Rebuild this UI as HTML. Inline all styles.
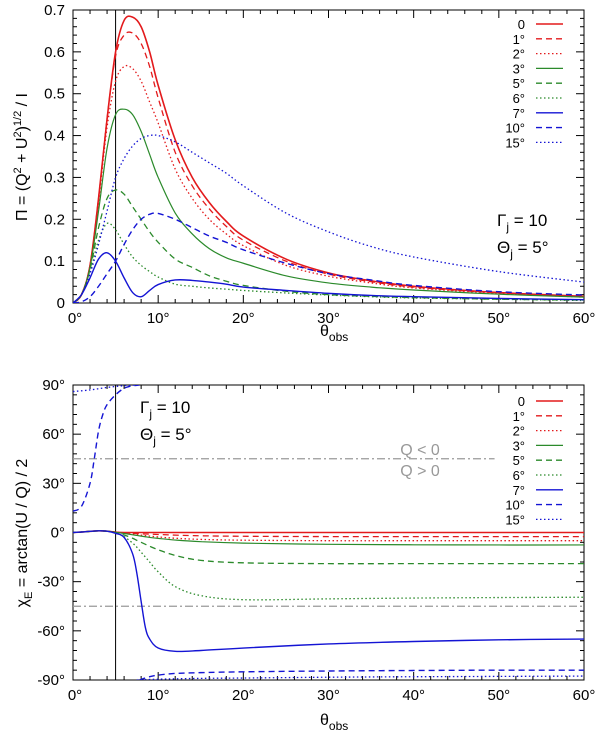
<!DOCTYPE html>
<html><head><meta charset="utf-8"><style>
body{margin:0;background:#fff}
svg text{font-family:"Liberation Sans",sans-serif;fill:#000}
</style></head><body>
<svg id="chart" width="600" height="735" viewBox="0 0 600 735" xmlns="http://www.w3.org/2000/svg">
<defs>
<clipPath id="clipTop"><rect x="73" y="10" width="511" height="293"/></clipPath>
<clipPath id="clipBot"><rect x="73" y="385" width="511" height="295"/></clipPath>
</defs>
<g id="top"></g>
<g id="bot"></g>
</svg>
<script>
// ---- data ----
const legendLabels = ["0","1°","2°","3°","5°","6°","7°","10°","15°"];
const thetaTop = [0,1,2,3,4,5,6,7,8,9,10,12,14,16,18,20,25,30,35,40,50,60];
const piS0  = [0,0.02,0.09,0.25,0.44,0.60,0.675,0.683,0.66,0.6,0.52,0.39,0.3,0.24,0.195,0.16,0.105,0.072,0.053,0.04,0.025,0.016];
const piS1  = [0,0.02,0.09,0.25,0.44,0.59,0.64,0.645,0.62,0.565,0.49,0.36,0.28,0.225,0.183,0.15,0.1,0.069,0.051,0.038,0.024,0.015];
const piS2  = [0,0.02,0.09,0.24,0.42,0.53,0.565,0.56,0.53,0.48,0.43,0.32,0.25,0.2,0.165,0.137,0.09,0.064,0.048,0.036,0.023,0.014];
const piS3  = [0,0.02,0.085,0.22,0.37,0.45,0.463,0.45,0.41,0.355,0.3,0.215,0.165,0.13,0.108,0.095,0.065,0.048,0.038,0.031,0.021,0.014];
const piS5  = [0,0.02,0.08,0.18,0.25,0.27,0.26,0.23,0.2,0.17,0.145,0.105,0.085,0.065,0.052,0.042,0.028,0.02,0.016,0.013,0.009,0.007];
const piS6  = [0,0.02,0.075,0.15,0.19,0.175,0.14,0.11,0.09,0.075,0.062,0.045,0.04,0.036,0.033,0.03,0.024,0.019,0.015,0.012,0.009,0.006];
const piS7  = [0,0.02,0.06,0.105,0.12,0.1,0.06,0.025,0.015,0.03,0.044,0.055,0.054,0.05,0.045,0.038,0.03,0.023,0.018,0.015,0.011,0.008];
const piS10 = [0,0.003,0.015,0.04,0.07,0.1,0.14,0.175,0.2,0.212,0.214,0.2,0.18,0.16,0.145,0.127,0.095,0.07,0.055,0.042,0.027,0.019];
const piS15 = [0,0.02,0.07,0.14,0.22,0.3,0.345,0.375,0.393,0.4,0.4,0.385,0.36,0.335,0.31,0.28,0.215,0.17,0.135,0.11,0.075,0.05];

const thetaBot = [0,1,2,3,4,5,6,7,7.5,8,8.5,9,10,12,15,20,30,40,50,60];
const chiS0 = [0,0.3,0.7,1,0.8,0.2,0,0,0,0,0,0,0,0,0,0,0,0,0,0];
const chiS1 = [0,0.3,0.7,1,0.8,0.2,-0.2,-0.5,-0.6,-0.8,-0.9,-1,-1.2,-1.6,-2,-2.3,-2.5,-2.5,-2.5,-2.5];
const chiS2 = [0,0.3,0.7,1,0.8,0.2,-0.4,-1,-1.3,-1.6,-1.9,-2.2,-2.7,-3.5,-4.2,-4.7,-5,-5,-5,-5];
const chiS3 = [0,0.3,0.7,1,0.8,0.1,-0.6,-1.4,-1.8,-2.2,-2.6,-3,-3.6,-4.6,-5.6,-6.5,-7.2,-7.5,-7.6,-7.6];
const chiS5 = [0,0.3,0.7,1,0.8,0,-1.5,-3.5,-4.8,-6,-7.2,-8.4,-10.5,-14,-17,-18.5,-19,-19,-19,-19];
const chiS6 = [0,0.3,0.7,1,0.8,-0.2,-2.5,-6.5,-9,-12,-15,-18,-24,-33,-38.5,-41,-40.5,-40,-39.7,-39.5];
const chiS7 = [0,0.3,0.7,1,0.8,-0.5,-3,-13,-25,-42,-58,-65,-70.5,-72.5,-72,-70.5,-68,-66.5,-65.5,-65];
const thetaS10a = [0,1,2,2.5,3,3.5,4,5,6,7,7.8];
const chiS10a   = [13,16,30,45,62,72,78,84,88,89.5,90];
const thetaS10b = [7.8,9,10,12,15,20,30,40,50,60];
const chiS10b   = [-90,-88,-87,-86,-85.5,-85,-84.5,-84.2,-84,-84];
const thetaS15a = [0,2,4,6,7.5];
const chiS15a   = [86,87,88.5,89.6,90];
const thetaS15b = [7.5,10,15,20,30,40,50,60];
const chiS15b   = [-90,-89.5,-89,-88.8,-88.3,-88,-87.8,-87.6];

const xTicks = [0,10,20,30,40,50,60];
const yTicksTop = [0,0.1,0.2,0.3,0.4,0.5,0.6,0.7];
const yTicksBot = [90,60,30,0,-30,-60,-90];

// ---- scales ----
const X0=73, X1=584;
const xs = t => X0 + (X1-X0)*t/60;
const yTop = v => 303 - (303-10)*v/0.7;
const yBot = v => 532.5 - 147.5*v/90;

const RED="#e31a1c", GREEN="#2b8a2b", BLUE="#1414d4";
const SOLID=null, DASH="6,4", DOT="1.5,2.5";
const styles = [[RED,SOLID,1.6],[RED,DASH,1.3],[RED,DOT,1.3],[GREEN,SOLID,1.2],[GREEN,DASH,1.3],[GREEN,DOT,1.3],[BLUE,SOLID,1.4],[BLUE,DASH,1.4],[BLUE,DOT,1.3]];
const NS="http://www.w3.org/2000/svg";

function mk(tag, attrs, parent){
  const e=document.createElementNS(NS,tag);
  for(const k in attrs) e.setAttribute(k,attrs[k]);
  parent.appendChild(e); return e;
}
function smoothPath(pts){
  let d="M"+pts[0][0].toFixed(2)+","+pts[0][1].toFixed(2);
  for(let i=0;i<pts.length-1;i++){
    const p0=pts[Math.max(0,i-1)],p1=pts[i],p2=pts[i+1],p3=pts[Math.min(pts.length-1,i+2)];
    const c1x=p1[0]+(p2[0]-p0[0])/6,c1y=p1[1]+(p2[1]-p0[1])/6;
    const c2x=p2[0]-(p3[0]-p1[0])/6,c2y=p2[1]-(p3[1]-p1[1])/6;
    d+=" C"+c1x.toFixed(2)+","+c1y.toFixed(2)+" "+c2x.toFixed(2)+","+c2y.toFixed(2)+" "+p2[0].toFixed(2)+","+p2[1].toFixed(2);
  }
  return d;
}
function drawSeries(g, ts, vs, ys, st, clip, name){
  const pts=ts.map((t,i)=>[xs(t),ys(vs[i])]);
  const p=mk("path",{d:smoothPath(pts),fill:"none",stroke:st[0],"stroke-width":st[2],"clip-path":"url(#"+clip+")"},g);
  if(st[1]) p.setAttribute("stroke-dasharray",st[1]);
  
  
}
function frame(g, yT, yB, yScale, yTicks, yMinorStep, yMin, yMax, fmt){
  const r=mk("rect",{x:X0,y:yT,width:X1-X0,height:yB-yT,fill:"none",stroke:"#000","stroke-width":1},g);
  
  
  for(let t=0;t<=60;t+=2){
    const maj=t%10===0, L=maj?8:4, x=xs(t);
    mk("line",{x1:x,y1:yB,x2:x,y2:yB-L,stroke:"#000","stroke-width":1},g);
    mk("line",{x1:x,y1:yT,x2:x,y2:yT+L,stroke:"#000","stroke-width":1},g);
  }
  for(let v=yMin;v<=yMax+1e-9;v+=yMinorStep){
    const maj=yTicks.some(m=>Math.abs(m-v)<1e-6), L=maj?8:4, y=yScale(v);
    mk("line",{x1:X0,y1:y,x2:X0+L,y2:y,stroke:"#000","stroke-width":1},g);
    mk("line",{x1:X1,y1:y,x2:X1-L,y2:y,stroke:"#000","stroke-width":1},g);
  }
  xTicks.forEach(t=>{
    const tx=mk("text",{x:xs(t)+ (t===0?2:0),y:yB+20,"font-size":15,"text-anchor":"middle"},g);
    tx.textContent=t+"°";
    
    
  });
  yTicks.forEach(v=>{
    const tx=mk("text",{x:65,y:yScale(v)+5,"font-size":15,"text-anchor":"end"},g);
    tx.textContent=fmt(v);
    
    
  });
  const vl=mk("line",{x1:xs(5),y1:yT,x2:xs(5),y2:yB,stroke:"#000","stroke-width":1},g);
  
  
}
function legend(g, y0){
  legendLabels.forEach((lab,i)=>{
    const y=y0+i*14.8;
    const t=mk("text",{x:525,y:y+5,"font-size":13,"text-anchor":"end"},g);
    t.textContent=lab;
    
    
    const st=styles[i];
    const l=mk("line",{x1:536,y1:y,x2:563,y2:y,stroke:st[0],"stroke-width":st[2]},g);
    if(st[1]) l.setAttribute("stroke-dasharray",st[1]);
    
    
  });
}
function params(g,x,y){
  const t=mk("text",{x:x,y:y,"font-size":17},g);
  t.innerHTML='Γ<tspan dy="5" font-size="12">j</tspan><tspan dy="-5"> = 10</tspan>';
  
  
  const t2=mk("text",{x:x,y:y+27,"font-size":17},g);
  t2.innerHTML='Θ<tspan dy="5" font-size="12">j</tspan><tspan dy="-5"> = 5°</tspan>';
  
  
}

// ---- top panel ----
const gt=document.getElementById("top");
frame(gt,10,303,yTop,yTicksTop,0.02,0,0.7,v=>v===0?"0":v.toFixed(1));
const topSeries=[piS0,piS1,piS2,piS3,piS5,piS6,piS7,piS10,piS15];
topSeries.forEach((vs,i)=>drawSeries(gt,thetaTop,vs,yTop,styles[i],"clipTop","pi-series-"+i));
legend(gt,24);
params(gt,497,226);
let xl=mk("text",{x:320,y:336,"font-size":16},gt);
xl.innerHTML='θ<tspan dy="5" font-size="12">obs</tspan>';


let yl=mk("text",{x:0,y:0,"font-size":16,"text-anchor":"middle",transform:"translate(27,157) rotate(-90)"},gt);
yl.innerHTML='Π = (Q<tspan dy="-6" font-size="11">2</tspan><tspan dy="6"> + U</tspan><tspan dy="-6" font-size="11">2</tspan><tspan dy="6">)</tspan><tspan dy="-6" font-size="11">1/2</tspan><tspan dy="6"> / I</tspan>';



// ---- bottom panel ----
const gb=document.getElementById("bot");
frame(gb,385,680,yBot,yTicksBot,6,-90,90,v=>v+"°");
let qa=mk("line",{x1:X0,y1:yBot(45),x2:xs(49.5),y2:yBot(45),stroke:"#999","stroke-width":1.3,"stroke-dasharray":"8,3,2,3"},gb);


let qb=mk("line",{x1:X0,y1:yBot(-45),x2:X1,y2:yBot(-45),stroke:"#999","stroke-width":1.3,"stroke-dasharray":"8,3,2,3"},gb);


let q1=mk("text",{x:420,y:455,"font-size":16,"text-anchor":"middle",style:"fill:#999"},gb);
q1.textContent="Q < 0";


let q2=mk("text",{x:420,y:476,"font-size":16,"text-anchor":"middle",style:"fill:#999"},gb);
q2.textContent="Q > 0";


const botSeries=[chiS0,chiS1,chiS2,chiS3,chiS5,chiS6,chiS7];
botSeries.forEach((vs,i)=>drawSeries(gb,thetaBot,vs,yBot,styles[i],"clipBot","chi-series-"+i));
drawSeries(gb,thetaS10a,chiS10a,yBot,styles[7],"clipBot","chi-series-10-a");
drawSeries(gb,thetaS10b,chiS10b,yBot,styles[7],"clipBot","chi-series-10-b");
drawSeries(gb,thetaS15a,chiS15a,yBot,styles[8],"clipBot","chi-series-15-a");
drawSeries(gb,thetaS15b,chiS15b,yBot,styles[8],"clipBot","chi-series-15-b");
legend(gb,401);
params(gb,140,413);
xl=mk("text",{x:320,y:725,"font-size":16},gb);
xl.innerHTML='θ<tspan dy="5" font-size="12">obs</tspan>';


yl=mk("text",{x:0,y:0,"font-size":16,"text-anchor":"middle",transform:"translate(27,533) rotate(-90)"},gb);
yl.innerHTML='χ<tspan dy="5" font-size="11">E</tspan><tspan dy="-5"> = arctan(U / Q) / 2</tspan>';


</script>
</body></html>
